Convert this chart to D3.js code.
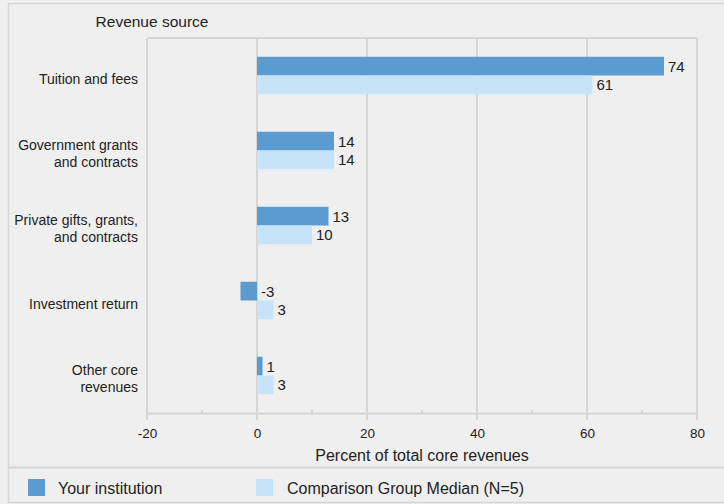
<!DOCTYPE html>
<html><head><meta charset="utf-8">
<script src="https://cdn.jsdelivr.net/npm/d3@7"></script>
<style>body{margin:0;background:#fff;}svg{display:block;font-family:"Liberation Sans",Arial,sans-serif;}</style>
</head><body>
<script>
const categories = [["Tuition and fees"],["Government grants","and contracts"],["Private gifts, grants,","and contracts"],["Investment return"],["Other core","revenues"]];
const yourInstitution = [74, 14, 13, -3, 1];
const comparisonMedian = [61, 14, 10, 3, 3];
const seriesNames = ["Your institution", "Comparison Group Median (N=5)"];
const xTicks = [-20, 0, 20, 40, 60, 80];
const colors = ["#5b9bd0", "#c6e3f7"];
const FF = "Liberation Sans, Arial, sans-serif";

const W = 724, H = 504;
const svg = d3.select("body").append("svg").attr("width", W).attr("height", H);
svg.append("rect").attr("width", W).attr("height", H).attr("fill", "#efefef");
// outer border
const bc = "#d6d6d6";
svg.append("line").attr("x1", 8).attr("x2", W).attr("y1", 3.5).attr("y2", 3.5).attr("stroke", bc).attr("stroke-width", 1.5);
svg.append("line").attr("x1", 8.5).attr("x2", 8.5).attr("y1", 3).attr("y2", 503).attr("stroke", bc).attr("stroke-width", 1.5);
svg.append("line").attr("x1", 8).attr("x2", W).attr("y1", 502.5).attr("y2", 502.5).attr("stroke", bc).attr("stroke-width", 1.5);
svg.append("line").attr("x1", 8).attr("x2", W).attr("y1", 467.5).attr("y2", 467.5).attr("stroke", bc).attr("stroke-width", 2);

const m = {l: 147, r: 697, t: 38, b: 413};
const x = d3.scaleLinear().domain([-20, 80]).range([m.l, m.r]);
const y = d3.scaleBand().domain(d3.range(categories.length)).range([m.t, m.b]).paddingInner(0.5).paddingOuter(0.25);

// gridlines
svg.append("g").selectAll("line").data(xTicks).join("line")
  .attr("x1", d => x(d)).attr("x2", d => x(d)).attr("y1", m.t).attr("y2", m.b + 7)
  .attr("stroke", bc).attr("stroke-width", 2);
svg.append("line").attr("x1", m.l).attr("x2", m.r).attr("y1", m.t).attr("y2", m.t).attr("stroke", bc).attr("stroke-width", 2);

// axis
const ax = svg.append("g").attr("transform", `translate(0,${m.b})`)
  .call(d3.axisBottom(x).tickValues(xTicks).tickFormat(d => String(d)).tickSize(0).tickPadding(15));
ax.select(".domain").attr("stroke", bc).attr("stroke-width", 2);
ax.selectAll("text").attr("font-size", 13.5).attr("fill", "#222").attr("font-family", FF);
svg.append("g").selectAll("line").data(d3.range(-10, 80, 20)).join("line")
  .attr("x1", d => x(d)).attr("x2", d => x(d)).attr("y1", m.b - 3).attr("y2", m.b)
  .attr("stroke", bc).attr("stroke-width", 2);
svg.append("text").attr("x", (m.l + m.r) / 2).attr("y", 461).attr("text-anchor", "middle")
  .attr("font-size", 16).attr("fill", "#222").text("Percent of total core revenues");

svg.append("text").attr("x", 152).attr("y", 27).attr("text-anchor", "middle")
  .attr("font-size", 15.5).attr("fill", "#222").text("Revenue source");

// category labels
const cl = svg.append("g").selectAll("text").data(categories).join("text")
  .attr("text-anchor", "end").attr("font-size", 14).attr("fill", "#222");
cl.each(function(lines, i) {
  const cy = y(i) + y.bandwidth() / 2;
  const lh = 17;
  const y0 = cy - (lines.length - 1) * lh / 2 + 8;
  d3.select(this).selectAll("tspan").data(lines).join("tspan")
    .attr("x", 138).attr("y", (d, j) => y0 + j * lh).text(d => d);
});

const bh = y.bandwidth() / 2;
const series = [yourInstitution, comparisonMedian];
series.forEach((vals, s) => {
  const g = svg.append("g");
  g.selectAll("rect").data(vals).join("rect")
    .attr("x", d => x(Math.min(0, d))).attr("width", d => Math.abs(x(d) - x(0)))
    .attr("y", (d, i) => y(i) + s * bh).attr("height", bh).attr("fill", colors[s]);
  g.selectAll("text").data(vals).join("text")
    .attr("x", d => x(Math.max(0, d)) + 4).attr("y", (d, i) => y(i) + s * bh + bh / 2 + 5.5)
    .attr("font-size", 15).attr("fill", "#222").text(d => d);
});

// legend
const lx = [28, 256], tx = [58, 287];
seriesNames.forEach((n, i) => {
  svg.append("rect").attr("x", lx[i]).attr("y", 479).attr("width", 17).attr("height", 17).attr("fill", colors[i]);
  svg.append("text").attr("x", tx[i]).attr("y", 494).attr("font-size", 16).attr("fill", "#222").text(n);
});
</script>
</body></html>
